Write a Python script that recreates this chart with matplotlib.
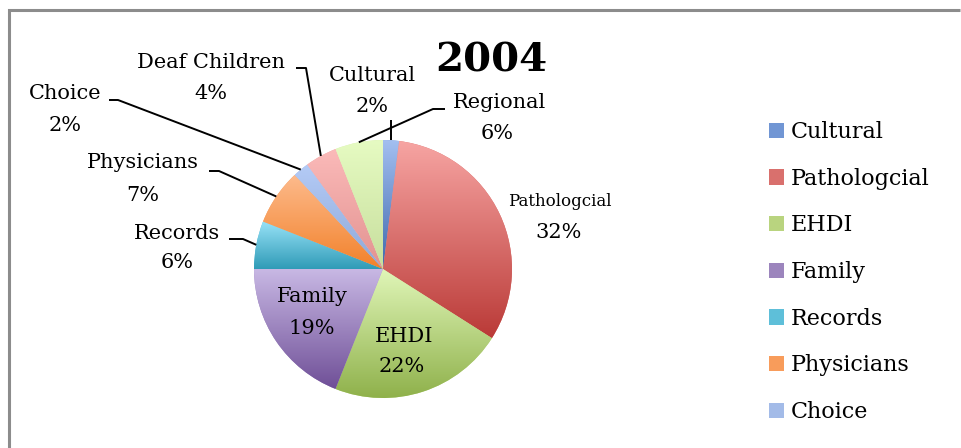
import numpy as np
import matplotlib
matplotlib.use("Agg")
import matplotlib.pyplot as plt
from matplotlib.colors import LinearSegmentedColormap

# ---- data ----
categories = ["Cultural", "Pathologcial", "EHDI", "Family", "Records",
              "Physicians", "Choice", "Deaf Children", "Regional"]
values = [2, 32, 22, 19, 6, 7, 2, 4, 6]
pct_labels = ["2%", "32%", "22%", "19%", "6%", "7%", "2%", "4%", "6%"]
legend_count = 7
title = "2004"

# gradient colours (top light -> bottom dark)
top_colors = ["#a3bff0", "#f7a5a3", "#e0f6b8", "#c8b8e4", "#98e2f7",
              "#fdbb8d", "#b4cbf6", "#fbbab9", "#e6fbc2"]
bot_colors = ["#3f69ad", "#ba3a37", "#8fb14b", "#6f4f97", "#2f9bb7",
              "#f2812a", "#8ea8d8", "#e29290", "#c7de9d"]
mid_colors = ["#7196d4", "#d9706d", "#b9d47f", "#9c85bd", "#5ebfd9",
              "#f89c5b", "#a3bbe8", "#eea7a6", "#d8eeaf"]

W, H = 961, 448
FONT = "DejaVu Serif"

fig = plt.figure(figsize=(W / 100, H / 100), dpi=100)
fig.patch.set_edgecolor("white")
fig.patch.set_linewidth(0)
ax = fig.add_axes([0, 0, 1, 1])

def P(y):
    return H - y

cx, cy, R = 383, 269, 129
wedges, _ = ax.pie(values, startangle=90, counterclock=False,
                   center=(cx, P(cy)), radius=R, colors=mid_colors,
                   wedgeprops=dict(linewidth=0))

# gradient fill per wedge
grad = np.linspace(0, 1, 256).reshape(-1, 1)
for w, tc, bc in zip(wedges, top_colors, bot_colors):
    ext = w.get_path().get_extents()
    cmap = LinearSegmentedColormap.from_list("g", [bc, tc])
    im = ax.imshow(grad, extent=[ext.x0, ext.x1, ext.y0, ext.y1],
                   origin="lower", cmap=cmap, aspect="auto", zorder=2,
                   interpolation="bilinear")
    im.set_clip_path(w)

def mid_point(w):
    a = np.deg2rad((w.theta1 + w.theta2) / 2)
    return w.center[0] + w.r * np.cos(a), w.center[1] + w.r * np.sin(a)

fs = 15
def label(x, y, s, size=fs):
    ax.text(x, P(y), s, ha="center", va="center", fontsize=size,
            family=FONT, color="black", zorder=5)

label(211, 62, categories[7]); label(211, 93, pct_labels[7])
label(65, 93, categories[6]); label(65, 125, pct_labels[6])
label(143, 162, categories[5]); label(143, 195, pct_labels[5])
label(177, 233, categories[4]); label(177, 263, pct_labels[4])
label(372, 75, categories[0]); label(372, 106, pct_labels[0])
label(500, 102, categories[8]); label(497, 133, pct_labels[8])
label(560, 201, categories[1], size=12); label(559, 232, pct_labels[1])
label(312, 297, categories[3]); label(312, 328, pct_labels[3])
label(404, 337, categories[2]); label(402, 366, pct_labels[2])

# leader lines
def leader(idx, pts):
    mx, my = mid_point(wedges[idx])
    xs = [p[0] for p in pts] + [mx]
    ys = [P(p[1]) for p in pts] + [my]
    ax.plot(xs, ys, color="black", lw=1.4, zorder=4, solid_capstyle="butt")

leader(7, [(296, 68), (306, 68)])
leader(6, [(109, 100), (118, 100)])
leader(5, [(209, 171), (219, 171)])
leader(4, [(229, 239), (243, 239)])
mx0, _ = mid_point(wedges[0])
leader(0, [(mx0, 120)])
leader(8, [(445, 109), (433, 109)])

# title
ax.text(491, P(60), title, ha="center", va="center", fontsize=29,
        fontweight="bold", family=FONT, color="black", zorder=5)

# chart-area border (only left and top edges are inside the picture)
ax.plot([9, 9, W - 1], [P(H), P(10), P(10)], color="#8c8c8c",
        lw=2.2, zorder=1, solid_joinstyle="miter", solid_capstyle="butt",
        clip_on=False)

leg = ax.legend(wedges[:legend_count], categories[:legend_count],
                loc="upper left", bbox_to_anchor=(769 / W, 1 - 121 / H),
                frameon=False, prop=dict(family=FONT, size=16),
                handlelength=0.68, handleheight=0.68, handletextpad=0.3,
                labelspacing=1.11, borderaxespad=0, borderpad=0)

ax.set_xlim(0, W)
ax.set_ylim(0, H)
ax.set_aspect("equal")
ax.axis("off")

fig.savefig("out.png", dpi=100)
